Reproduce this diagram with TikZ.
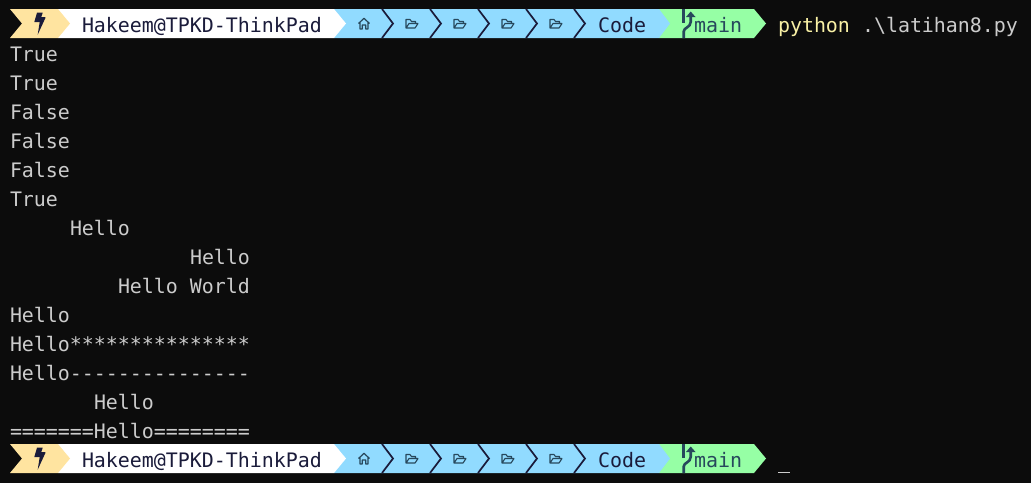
\documentclass[tikz,border=0pt]{standalone}
\usepackage{fontspec}
\newfontfamily\termfont{DejaVu Sans Mono}
\definecolor{termbg}{HTML}{0C0C0C}
\definecolor{termfg}{HTML}{CCCCCC}
\definecolor{cmdyellow}{HTML}{F9F1A5}
\definecolor{segyellow}{HTML}{FFE4A0}
\definecolor{segblue}{HTML}{91DBFF}
\definecolor{seggreen}{HTML}{96FFA5}
\definecolor{segink}{HTML}{1A1B3A}
\definecolor{gitink}{HTML}{27485C}
\usetikzlibrary{arrows.meta}
\tikzset{
  termtext/.style={anchor=base west,inner sep=0pt,outer sep=0pt,font=\termfont\fontsize{19.93}{24}\selectfont,text=termfg},
  bartext/.style={termtext,text=segink}
}

\begin{document}
\begin{tikzpicture}[x=1pt,y=-1pt]
  \useasboundingbox (0,0) rectangle (1031,483);
  \fill[termbg] (0,0) rectangle (1031,483);
  % Output lines
  \foreach \row/\col/\txt in {0/10/True, 1/10/True, 2/10/False, 3/10/False, 4/10/False, 5/10/True,
      6/70/Hello, 7/190/Hello, 8/118/Hello World, 9/10/Hello,
      10/10/Hello***************, 11/10/Hello---------------, 12/94/Hello, 13/10/=======Hello========} {
    \node[termtext] (line\row) at (\col,61+\row*29) {\txt};
  }
  % Prompt bars
  \foreach \y/\n in {9/top, 444/bot} {
    \begin{scope}[shift={(0,\y)}]
      \fill[seggreen] (659,0) -- (754,0) -- (766,14.5) -- (754,29) -- (659,29) -- cycle;
      \fill[segblue] (334,0) -- (659,0) -- (670,14.5) -- (659,29) -- (334,29) -- cycle;
      \fill[white] (58,0) -- (334,0) -- (346,14.5) -- (334,29) -- (58,29) -- cycle;
      \fill[segyellow] (10,0) -- (58,0) -- (70,14.5) -- (58,29) -- (10,29) -- (22,14.5) -- cycle;
      % Bolt
      \fill[segink] (37,3.7) -- (42.7,3.7) -- (41.3,8) -- (45.7,8.3) -- (37.7,25.7) -- (39.7,13) -- (34.3,13) -- cycle;
      \node[bartext] (user\n) at (82,23) {Hakeem@TPKD-ThinkPad};
      % Path separators
      \foreach \x in {382,430,478,526,574} {
        \draw[segink,line width=1.7pt] (\x,0) -- (\x+11,14.5) -- (\x,29);
      }
      % Home
      \draw[gitink,line width=1.2pt,line join=round] (358.5,14.5) -- (364,9.3) -- (369.5,14.5)
        (360,13.5) -- (360,20) -- (362.3,20) -- (362.3,16) -- (365.7,16) -- (365.7,20) -- (368,20) -- (368,13.5);
      % Folders
      \foreach \x in {406,454,502,550} {
        \draw[gitink,line width=1.1pt,line join=round] (\x,19) -- (\x,10.5) -- (\x+4,10.5) -- (\x+5.5,12.5) -- (\x+9.5,12.5) -- (\x+9.5,14.5)
          (\x,19) -- (\x+9,19) -- (\x+12,14.5) -- (\x+3,14.5) -- cycle;
      }
      \node[bartext] (dir\n) at (598,23) {Code};
      % Branch mark
      \draw[gitink,line width=3pt] (683.7,0) -- (683.7,14);
      \draw[gitink,line width=2.6pt] (683.7,29) -- (683.7,22.5) .. controls (683.7,18.5) and (690.7,18.5) .. (690.7,13) -- (690.7,6);
      \fill[gitink] (690.7,2.5) -- (695.5,8) -- (686,8) -- cycle;
      \node[bartext,text=gitink] (branch\n) at (694,23) {main};
    \end{scope}
  }
  % Command and cursor
  \node[termtext,text=cmdyellow] (cmd) at (778,32) {python};
  \node[termtext] (arg) at (862,32) {.\textbackslash latihan8.py};
  \fill[termfg] (778,471.5) rectangle (790,473);
\end{tikzpicture}
\end{document}
